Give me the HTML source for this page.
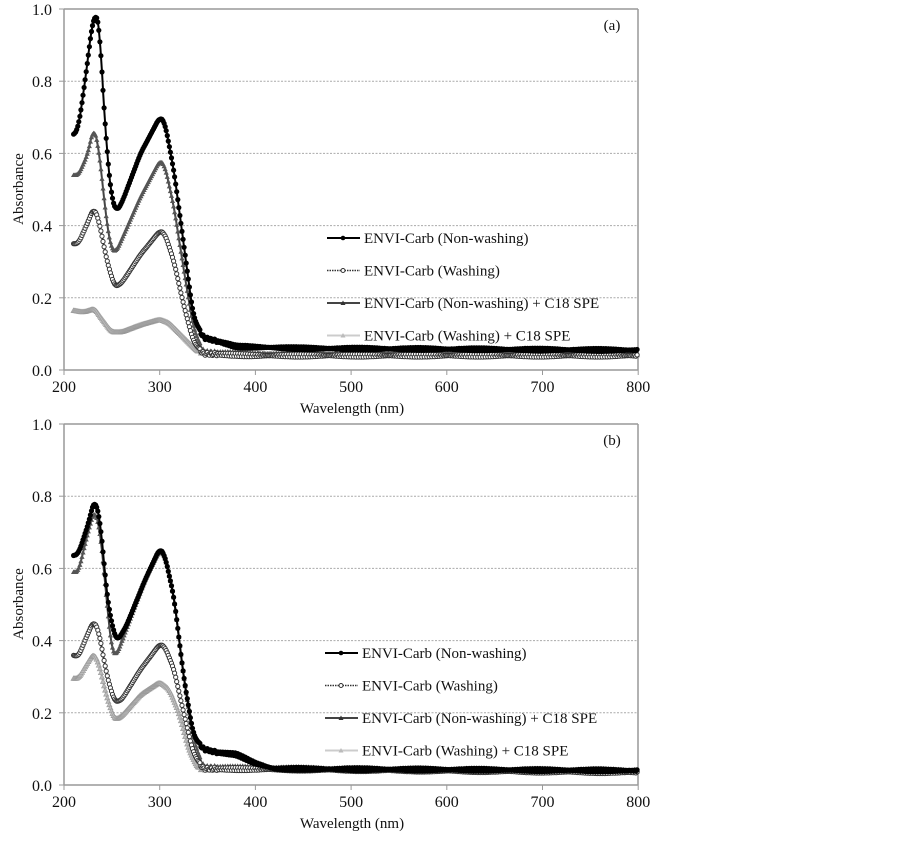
<!DOCTYPE html>
<html><head><meta charset="utf-8"><style>
body{margin:0;background:#fff;}
svg text{font-family:"Liberation Serif",serif;fill:#111;}
</style></head><body>
<svg id="s" width="902" height="838" xmlns="http://www.w3.org/2000/svg"></svg>
<script>
const S=document.getElementById('s');let h='';
const X=n=>64+(n-200)*0.957;
function lin(p,n){if(n<=p[0][0])return p[0][1];for(let i=0;i<p.length-1;i++){if(n>=p[i][0]&&n<=p[i+1][0]){const t=(n-p[i][0])/(p[i+1][0]-p[i][0]);return p[i][1]+t*(p[i+1][1]-p[i][1]);}}return p[p.length-1][1];}
function interp(p,n){let s=0,c=0;for(let d=-3;d<=3;d+=0.5){s+=lin(p,Math.max(210,n+d));c++;}return s/c;}
function panel(off,series,tag,legY,legX){
 const Y=a=>off+370-a*361;
 h+=`<line x1="64" y1="${off+9}" x2="638" y2="${off+9}" stroke="#999" stroke-width="1.5"/>`;
 h+=`<line x1="638" y1="${off+9}" x2="638" y2="${off+370}" stroke="#999" stroke-width="1.5"/>`;
 for(let k=1;k<5;k++)h+=`<line x1="64" y1="${Y(k*0.2)}" x2="638" y2="${Y(k*0.2)}" stroke="#aaa" stroke-dasharray="2,1.5"/>`;
 h+=`<line x1="64" y1="${off+9}" x2="64" y2="${off+370}" stroke="#999" stroke-width="1.5"/>`;
 h+=`<line x1="64" y1="${off+370}" x2="638" y2="${off+370}" stroke="#999" stroke-width="1.5"/>`;
 for(let k=0;k<=5;k++){h+=`<line x1="59" y1="${Y(k*0.2)}" x2="64" y2="${Y(k*0.2)}" stroke="#999"/><text x="52" y="${Y(k*0.2)+6}" font-size="16" text-anchor="end">${(k*0.2).toFixed(1)}</text>`;}
 for(let n=200;n<=800;n+=100){h+=`<line x1="${X(n)}" y1="${off+370}" x2="${X(n)}" y2="${off+375}" stroke="#999"/><text x="${X(n)}" y="${off+392}" font-size="16" text-anchor="middle">${n}</text>`;}
 h+=`<text x="352" y="${off+413}" font-size="15" text-anchor="middle">Wavelength (nm)</text>`;
 h+=`<text transform="translate(23,${off+189}) rotate(-90)" font-size="15" text-anchor="middle">Absorbance</text>`;
 h+=`<text x="612" y="${off+30}" font-size="15" text-anchor="middle">${tag}</text>`;
 const cols=['#000','#333','#444','#999'];
 [3,2,1,0].forEach(i=>{const p=series[i],c=cols[i];let pts=[];
  const f=n=>interp(p,n)+(n>340?Math.sin(n*7.3)*0.004:0);
  for(let n=210;n<=800;n+=1)pts.push(X(n).toFixed(1)+','+Y(f(n)).toFixed(1));
  h+=`<polyline points="${pts.join(' ')}" fill="none" stroke="${c}" stroke-width="2"/>`;
  for(let n=210;n<=800;n+=(n<360?1.1:1.3)){const x=X(n),y=Y(f(n));
   if(i==0)h+=`<circle cx="${x.toFixed(1)}" cy="${y.toFixed(1)}" r="2.6" fill="#000"/>`;
   else if(i==1)h+=`<circle cx="${x.toFixed(1)}" cy="${y.toFixed(1)}" r="2.1" fill="#fff" stroke="#333" stroke-width="1"/>`;
   else if(i==2)h+=`<path d="M${x-2.6},${y+2}L${x+2.6},${y+2}L${x},${y-2.6}Z" fill="#555"/>`;
   else h+=`<path d="M${x-2.6},${y+2}L${x+2.6},${y+2}L${x},${y-2.6}Z" fill="#bbb" stroke="#999" stroke-width="0.6"/>`;}
 });
 const names=['ENVI-Carb (Non-washing)','ENVI-Carb (Washing)','ENVI-Carb (Non-washing) + C18 SPE','ENVI-Carb (Washing) + C18 SPE'];
 names.forEach((t,i)=>{const y=legY+i*32.5;const c=cols[i];
  h+=`<line x1="${legX}" y1="${y}" x2="${legX+33}" y2="${y}" stroke="${i==3?'#ccc':c}" stroke-width="${i==1?1.5:2}" ${i==1?'stroke-dasharray="1.5,1"':''}/>`;
  const mx=legX+16;
  if(i==0)h+=`<circle cx="${mx}" cy="${y}" r="2.3" fill="#000"/>`;
  else if(i==1)h+=`<circle cx="${mx}" cy="${y}" r="2" fill="#fff" stroke="#333"/>`;
  else h+=`<path d="M${mx-2.5},${y+2}L${mx+2.5},${y+2}L${mx},${y-2.5}Z" fill="${i==2?'#333':'#bbb'}"/>`;
  h+=`<text x="${legX+37}" y="${y+5}" font-size="15">${t}</text>`;});
}
const A=[
[[210,.65],[215,.67],[222,.8],[230,.97],[233,.985],[237,.965],[240,.8],[245,.6],[250,.47],[255,.44],[260,.46],[280,.6],[300,.70],[305,.69],[315,.55],[325,.35],[335,.15],[345,.09],[360,.08],[380,.065],[450,.06],[800,.055]],
[[210,.35],[215,.35],[225,.41],[231,.45],[236,.42],[245,.3],[253,.23],[260,.24],[280,.32],[300,.385],[305,.38],[315,.3],[325,.18],[335,.08],[345,.045],[400,.04],[800,.04]],
[[210,.54],[215,.54],[225,.6],[231,.675],[236,.62],[245,.4],[250,.33],[255,.33],[280,.48],[300,.58],[305,.57],[315,.45],[325,.28],[335,.12],[345,.05],[400,.045],[800,.045]],
[[210,.165],[220,.16],[232,.17],[240,.14],[250,.105],[260,.105],[280,.125],[300,.14],[310,.13],[325,.09],[340,.05],[400,.04],[800,.04]]];
const B=[
[[210,.635],[215,.64],[225,.72],[232,.795],[238,.73],[245,.52],[252,.42],[256,.40],[265,.44],[285,.57],[300,.655],[305,.64],[315,.52],[325,.3],[335,.14],[345,.1],[360,.09],[380,.085],[400,.06],[420,.045],[800,.04]],
[[210,.36],[215,.355],[225,.42],[231,.455],[236,.43],[245,.3],[253,.23],[260,.235],[280,.32],[300,.39],[305,.385],[315,.32],[325,.2],[335,.09],[345,.045],[800,.035]],
[[210,.59],[215,.59],[225,.7],[232,.765],[238,.7],[245,.5],[250,.37],[255,.36],[265,.43],[285,.57],[300,.65],[305,.64],[315,.52],[325,.3],[335,.13],[345,.05],[800,.035]],
[[210,.295],[215,.295],[225,.34],[231,.365],[236,.34],[245,.24],[253,.18],[260,.19],[280,.25],[300,.285],[310,.265],[320,.2],[330,.1],[340,.045],[800,.04]]];
panel(0,A,'(a)',238,327);
panel(415,B,'(b)',653,325);
S.innerHTML=h;
</script>
</body></html>
